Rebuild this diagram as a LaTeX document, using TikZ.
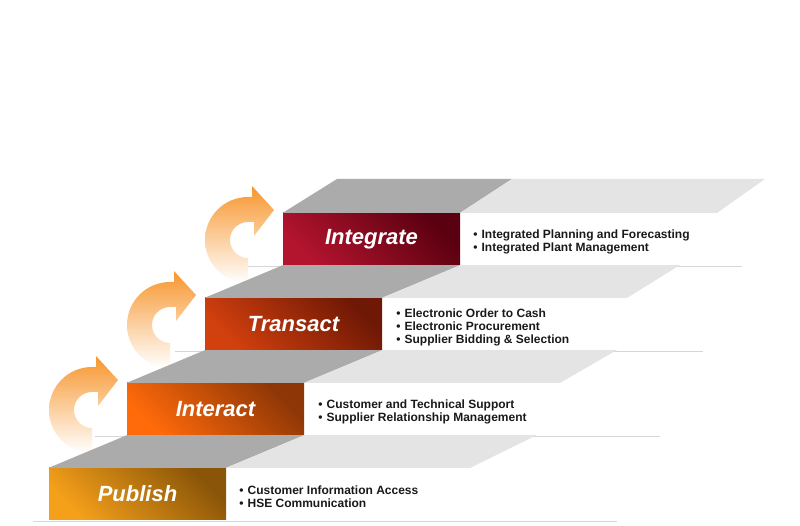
\documentclass[tikz,border=0pt]{standalone}
\usepackage{fontspec}
\setmainfont{Liberation Sans}
\usetikzlibrary{positioning}

\definecolor{pubA}{HTML}{F5A01A}
\definecolor{pubB}{HTML}{8A5508}
\definecolor{intA}{HTML}{FF6A0A}
\definecolor{intB}{HTML}{8E3606}
\definecolor{traA}{HTML}{D2400E}
\definecolor{traB}{HTML}{6E1805}
\definecolor{itgA}{HTML}{B3142E}
\definecolor{itgB}{HTML}{5A0010}
\definecolor{stepdark}{HTML}{ABABAB}
\definecolor{steplight}{HTML}{E4E4E4}
\definecolor{floorline}{HTML}{D6D6D6}
\definecolor{curlorange}{HTML}{F7962E}
\newcommand{\bul}{\textbullet\hspace{4pt}}

\begin{document}
\begin{tikzpicture}[x=1pt, y=1pt,
    stepbox/.style={minimum width=177pt, minimum height=52pt, inner sep=0pt, text=white,
      font=\fontsize{22}{26}\selectfont\bfseries\itshape},
    bullets/.style={inner sep=0pt, align=left, text=black!90, yshift=-3pt,
      font=\fontsize{12}{13}\selectfont\bfseries},
    curl/.style={top color=curlorange, middle color=curlorange!65, bottom color=white}]
    \useasboundingbox (0,0) rectangle (800,526);
    % floor lines under each step
    \draw[floorline, line width=0.8pt] (33,5)--(617,5);
    \draw[floorline, line width=0.8pt] (95,90)--(660,90);
    \draw[floorline, line width=0.8pt] (175,175)--(703,175);
    \draw[floorline, line width=0.8pt] (247,260)--(742,260);
    % curled arrows going up the stairs
    \foreach \cx/\cy in {92/116, 170/201, 248/286} {
      \shade[curl, shift={(\cx,\cy)}] (0,-43) arc[start angle=270, end angle=90, radius=43]
        -- (4,43) -- (4,54) -- (26,30) -- (6,4) -- (6,18) -- (0,18)
        arc[start angle=90, end angle=270, radius=18] -- cycle;
    }
    % front faces of the steps
    \node[stepbox, top color=pubB, bottom color=pubA, shading angle=-45] (publish) at (137.5,32) {Publish};
    \node[stepbox, top color=intB, bottom color=intA, shading angle=-45] (interact) at (215.5,117) {Interact};
    \node[stepbox, top color=traB, bottom color=traA, shading angle=-45] (transact) at (293.5,202) {Transact};
    \node[stepbox, top color=itgB, bottom color=itgA, shading angle=-45] (integrate) at (371.5,287) {Integrate};
    % treads
    \fill[stepdark] (publish.north west)--(publish.north east)--(interact.south east)--(interact.south west)--cycle;
    \fill[steplight] (publish.north east)--(470,58)--(537,91)--(interact.south east)--cycle;
    \fill[stepdark] (interact.north west)--(interact.north east)--(transact.south east)--(transact.south west)--cycle;
    \fill[steplight] (interact.north east)--(560,143)--(617,176)--(transact.south east)--cycle;
    \fill[stepdark] (transact.north west)--(transact.north east)--(integrate.south east)--(integrate.south west)--cycle;
    \fill[steplight] (transact.north east)--(627,228)--(680,261)--(integrate.south east)--cycle;
    \coordinate (topleft) at (337,347);
    \coordinate (topmid) at (512,347);
    \fill[stepdark] (integrate.north west)--(integrate.north east)--(topmid)--(topleft)--cycle;
    \fill[steplight] (integrate.north east)--(717,313)--(765,347)--(topmid)--cycle;
    % what each step brings
    \node[bullets, right=13pt of publish] (publishtxt) {\bul Customer Information Access\\\bul HSE Communication};
    \node[bullets, right=14pt of interact] (interacttxt) {\bul Customer and Technical Support\\\bul Supplier Relationship Management};
    \node[bullets, right=14pt of transact] (transacttxt) {\bul Electronic Order to Cash\\\bul Electronic Procurement\\\bul Supplier Bidding \& Selection};
    \node[bullets, right=13pt of integrate] (integratetxt) {\bul Integrated Planning and Forecasting\\\bul Integrated Plant Management};
\end{tikzpicture}
\end{document}
